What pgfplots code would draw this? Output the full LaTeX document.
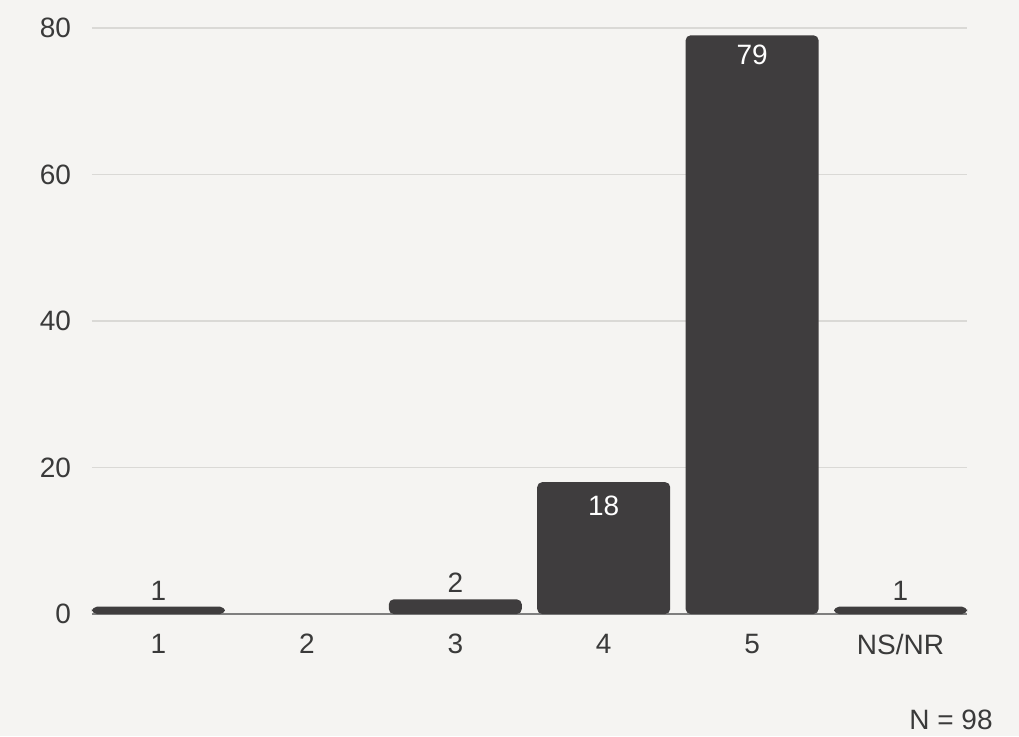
\documentclass[border=0pt]{standalone}
\usepackage{fontspec}
\setmainfont{Liberation Sans}
\usepackage{pgfplots}
\pgfplotsset{compat=1.18}
\definecolor{bg}{HTML}{F5F4F2}
\definecolor{barc}{HTML}{3F3D3E}
\definecolor{gridc}{HTML}{DAD9D6}
\definecolor{txt}{HTML}{3A3A3A}
\definecolor{axl}{HTML}{7F7F7F}
\begin{document}
\begin{tikzpicture}
\fill[bg] (-46pt,-61pt) rectangle (463.5pt,307pt);
\begin{axis}[
  at={(0,0)}, anchor=south west, scale only axis,
  width=437.5pt, height=293pt,
  xmin=-0.448, xmax=5.448, ymin=3, ymax=83,
  y filter/.expression={y+3},
  ytick={3,23,43,63,83}, yticklabels={0,20,40,60,80},
  xtick={0,1,2,3,4,5}, xticklabels={1,2,3,4,5,NS/NR},
  axis x line*=bottom, axis y line*=left,
  y axis line style={draw=none},
  x axis line style={draw=axl, line width=0.6pt, -},
  major tick length=0pt,
  ymajorgrids, grid style={draw=gridc, line width=0.6pt},
  tick label style={font=\fontsize{14}{16}\selectfont, text=txt},
  yticklabel style={xshift=-7pt},
  xticklabel style={yshift=-6.5pt},
  /pgf/number format/assume math mode=true,
  ybar, bar width=66.5pt, bar shift=0pt,
  nodes near coords, point meta=explicit symbolic,
]
\addplot[fill=barc, draw=none, rounded corners=2.5pt,
  nodes near coords style={anchor=south, inner sep=0pt, yshift=3pt, text=txt, font=\fontsize{14}{16}\selectfont}]
  coordinates {(0,1) [1] (2,2) [2] (5,1) [1]};
\addplot[fill=barc, draw=none, rounded corners=2.5pt,
  nodes near coords style={anchor=north, inner sep=0pt, yshift=-6.5pt, text=white, font=\fontsize{14}{16}\selectfont}]
  coordinates {(3,18) [18]};
\addplot[fill=barc, draw=none, rounded corners=2.5pt,
  nodes near coords style={anchor=north, inner sep=0pt, yshift=-4.5pt, text=white, font=\fontsize{14}{16}\selectfont}]
  coordinates {(4,79) [79]};
\end{axis}
\node[anchor=east, inner sep=0pt, text=txt, font=\fontsize{14}{16}\selectfont] at (450.5pt,-53pt) {N = 98};
\pgfresetboundingbox
\path (-46pt,-61pt) rectangle (463.5pt,307pt);
\end{tikzpicture}
\end{document}
